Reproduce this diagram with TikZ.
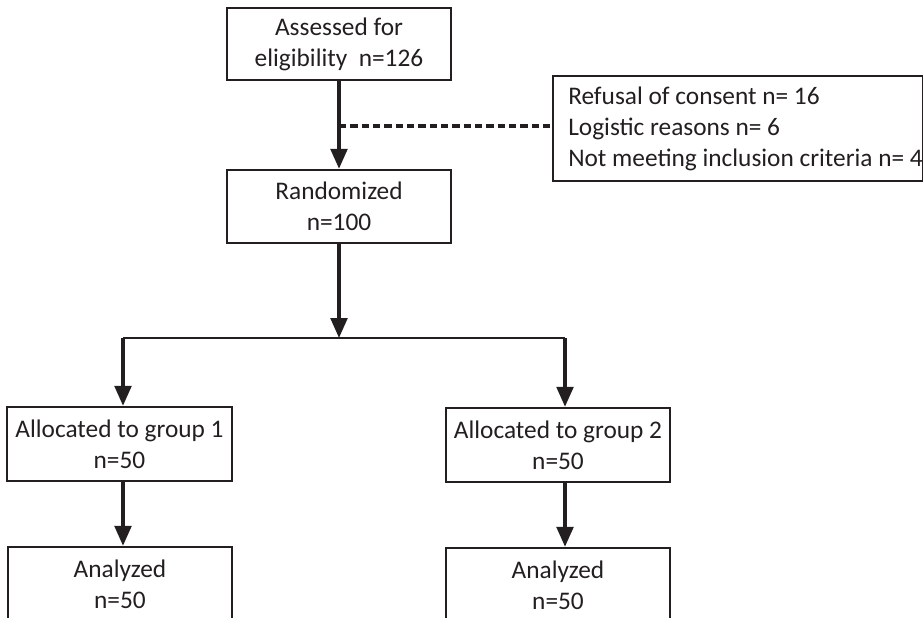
\documentclass[tikz,border=0pt]{standalone}
\usepackage{fontspec}
\setmainfont{Carlito}
\usetikzlibrary{arrows.meta}
\definecolor{ink}{RGB}{35,31,32}
\begin{document}
\begin{tikzpicture}[x=0.75pt,y=-0.75pt,
  box/.style={draw=ink,line width=1.8pt,minimum width=168pt,minimum height=55pt,inner sep=0pt,align=center,text=ink,font=\fontsize{19}{23.25}\selectfont},
  txt/.style={inner sep=0pt,align=left,text=ink,font=\fontsize{19}{23.25}\selectfont},
  arr/.style={draw=ink,line width=2.6pt,-{Triangle[length=15pt,width=12.5pt]}},
  branch/.style={draw=ink,line width=1.9pt},
  dashline/.style={draw=ink,line width=2.6pt,dash pattern=on 5.5pt off 3pt}]
\useasboundingbox (0,0) rectangle (923,617);
\clip (0,0) rectangle (923,617);
\node[box,minimum height=54pt] (a) at (339,44) {Assessed for\\eligibility\ \ n=126};
\node[box,minimum height=54.75pt] (r) at (339,206.5) {Randomized\\n=100};
\node[draw=ink,line width=1.8pt,minimum width=277.5pt,minimum height=78.75pt,inner sep=0pt,anchor=north west] (side) at (552,75) {};
\node[txt,anchor=west] (sidetxt) at (568,128.5) {Refusal of consent n= 16\\Logistic reasons n= 6\\Not meeting inclusion criteria n= 4};
\node[box,minimum width=168.75pt,minimum height=55.5pt] (g1) at (119.5,444) {Allocated to group 1\\n=50};
\node[box,minimum height=55.5pt] (g2) at (558,445) {Allocated to group 2\\n=50};
\node[box,minimum height=55.5pt] (an1) at (120,584) {Analyzed\\n=50};
\node[box,minimum height=55.5pt] (an2) at (558,585) {Analyzed\\n=50};
\coordinate (dj) at (339,126);
\coordinate (bc) at (339,338);
\coordinate (bl) at (123,338);
\coordinate (br) at (565,338);
\draw[arr] (a.south) -- (r.north);
\draw[dashline] (dj) -- (dj -| side.west);
\draw[arr] (r.south) -- (bc);
\draw[branch] (bl) -- (br);
\draw[arr] (bl) -- (bl |- g1.north);
\draw[arr] (br) -- (br |- g2.north);
\draw[arr] (bl |- g1.south) -- (bl |- an1.north);
\draw[arr] (br |- g2.south) -- (br |- an2.north);
\end{tikzpicture}
\end{document}
